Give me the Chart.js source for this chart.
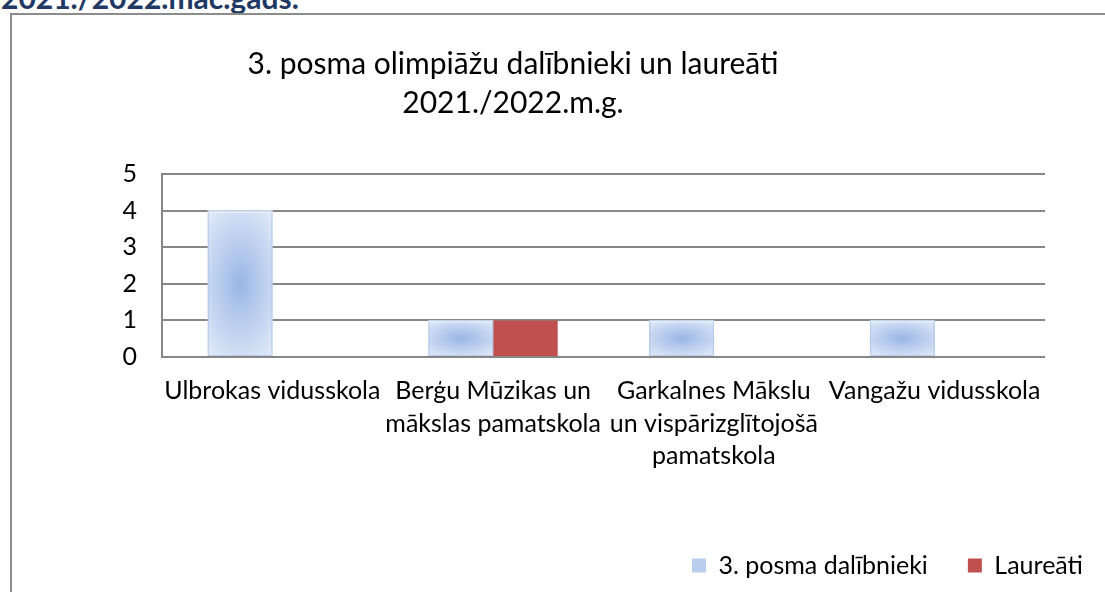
<!DOCTYPE html>
<html lang="lv">
<head>
<meta charset="utf-8">
<title>3. posma olimpiāžu dalībnieki un laureāti</title>
<script src="https://cdn.jsdelivr.net/npm/chart.js@4.4.1/dist/chart.umd.min.js"></script>
<style>
  html, body { margin: 0; padding: 0; background: #fff; }
  body { width: 1105px; height: 592px; position: relative; overflow: hidden; font-family: Lato, "Open Sans", sans-serif; }
  #virsraksts { position: absolute; left: 1px; top: -18px; font-weight: bold; font-size: 30px; line-height: 30px; color: #1F3864; white-space: nowrap; }
  #ramis { position: absolute; left: 10px; top: 13px; width: 1110px; height: 600px; border-left: 2px solid #8c8c8c; border-top: 2px solid #8c8c8c; }
  #grafiks { position: absolute; left: 0; top: 0; }
</style>
</head>
<body>
<div id="virsraksts">2021./2022.māc.gads.</div>
<div id="ramis"></div>
<canvas id="grafiks" width="1105" height="592"></canvas>
<script>
const skolas = [
    ["Ulbrokas vidusskola"],
    ["Berģu Mūzikas un", "mākslas pamatskola"],
    ["Garkalnes Mākslu", "un vispārizglītojošā", "pamatskola"],
    ["Vangažu vidusskola"]
];
const dalibnieki = [4, 1, 1, 1];
const laureati = [0, 1, 0, 0];
const asuVertibas = [0, 1, 2, 3, 4, 5];
const nosaukums = ["3. posma olimpiāžu dalībnieki un laureāti", "2021./2022.m.g."];
const serijas = ["3. posma dalībnieki", "Laureāti"];

const fonts = "Lato, 'Open Sans', sans-serif";
const pelekais = "#878787";

Chart.defaults.color = "#000";
Chart.defaults.font.family = fonts;

// zilie stabiņi ar radiālu gradientu kā Excel
const gradientaStabini = {
    id: "gradientaStabini",
    afterDatasetDraw(chart, args) {
        if (args.index !== 0) return;
        const ctx = chart.ctx;
        args.meta.data.forEach(stabins => {
            const { x, y, base, width } = stabins.getProps(["x", "y", "base", "width"], true);
            const kreisa = x - width / 2;
            const augsa = Math.min(y, base);
            const augstums = Math.abs(base - y);
            if (augstums <= 0) return;

            ctx.save();
            ctx.beginPath();
            ctx.rect(kreisa, augsa, width, augstums);
            ctx.clip();
            ctx.translate(x, augsa + augstums / 2);
            ctx.scale(width * 0.75, augstums * 0.62);
            const grad = ctx.createRadialGradient(0, 0, 0, 0, 0, 1);
            grad.addColorStop(0, "#9ab6e6");
            grad.addColorStop(1, "#e0e9f7");
            ctx.fillStyle = grad;
            ctx.fillRect(-1, -1, 2, 2);
            ctx.restore();

            ctx.save();
            ctx.fillStyle = "rgba(255,255,255,0.75)";
            ctx.fillRect(kreisa, augsa, width, 2);
            ctx.strokeStyle = "rgba(165,192,232,0.7)";
            ctx.lineWidth = 1;
            ctx.strokeRect(kreisa + 0.5, augsa + 0.5, width - 1, augstums - 1);
            ctx.restore();
        });
    }
};

// virsraksts nav centrēts pret visu audeklu
const virsrakstaNobide = {
    id: "virsrakstaNobide",
    afterLayout(chart) {
        const t = chart.titleBlock;
        t.left = 0;
        t.right = 1026;
        t.width = 1026;
    }
};

new Chart(document.getElementById("grafiks"), {
    type: "bar",
    data: {
        labels: skolas,
        datasets: [
            {
                label: serijas[0],
                data: dalibnieki,
                backgroundColor: "#b9cdee",
                categoryPercentage: 0.585,
                barPercentage: 1.0
            },
            {
                label: serijas[1],
                data: laureati,
                backgroundColor: "#C0504D",
                categoryPercentage: 0.585,
                barPercentage: 1.0
            }
        ]
    },
    options: {
        responsive: false,
        devicePixelRatio: 1,
        animation: false,
        layout: {
            padding: { left: 0, right: -18, top: 0, bottom: 4 }
        },
        plugins: {
            title: {
                display: true,
                text: nosaukums,
                color: "#000",
                font: { family: fonts, size: 30, weight: "normal", lineHeight: 1.3 },
                padding: { top: 45, bottom: 51 }
            },
            legend: {
                position: "bottom",
                align: "end",
                labels: {
                    boxWidth: 14,
                    boxHeight: 14,
                    padding: 40,
                    color: "#000",
                    font: { family: fonts, size: 25, lineHeight: 1.2 }
                }
            },
            tooltip: { enabled: false }
        },
        scales: {
            x: {
                grid: { display: false, drawTicks: false },
                border: { display: false },
                ticks: {
                    autoSkip: false,
                    maxRotation: 0,
                    minRotation: 0,
                    padding: 18,
                    color: "#000",
                    font: { family: fonts, size: 25, lineHeight: 1.3 }
                },
                afterFit(scale) { scale.height = 156; }
            },
            y: {
                min: asuVertibas[0],
                max: asuVertibas[asuVertibas.length - 1],
                afterBuildTicks(scale) {
                    scale.ticks = asuVertibas.map(v => ({ value: v }));
                },
                grid: { color: pelekais, lineWidth: 2, drawTicks: false },
                border: { display: true, color: pelekais, width: 2 },
                ticks: {
                    padding: 25,
                    color: "#000",
                    font: { family: fonts, size: 25 }
                },
                afterFit(scale) { scale.width = 162; }
            },
            y2: {
                type: "linear",
                position: "right",
                grid: { display: false },
                border: { display: false },
                ticks: { display: false },
                afterFit(scale) { scale.width = 78; }
            }
        }
    },
    plugins: [gradientaStabini, virsrakstaNobide]
});
</script>
</body>
</html>
